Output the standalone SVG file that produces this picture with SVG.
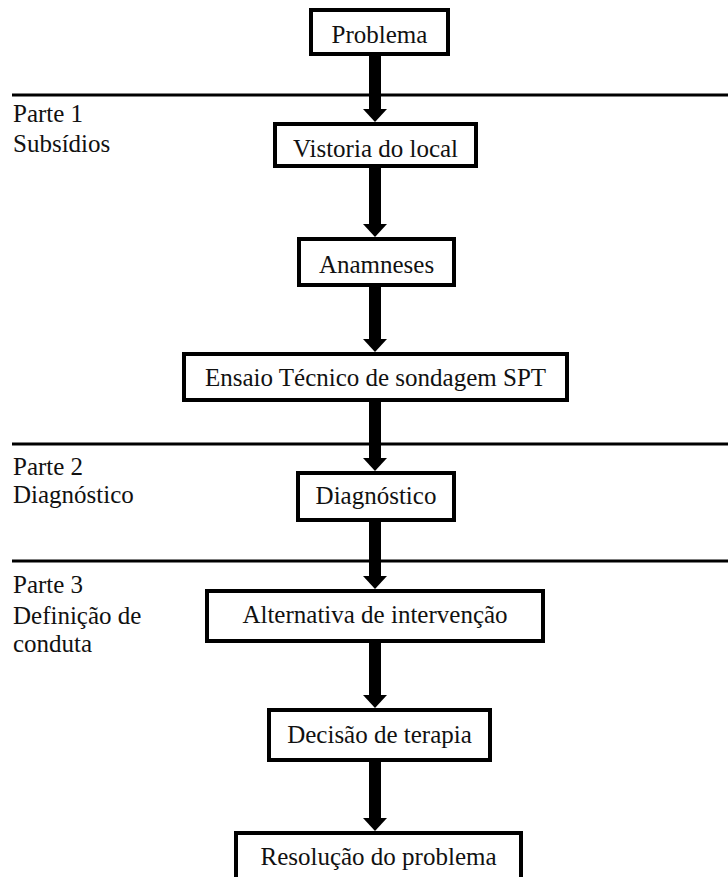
<svg xmlns="http://www.w3.org/2000/svg" width="728" height="877" viewBox="0 0 728 877">
<defs>
<style>
.box{fill:#fff;stroke:#000;stroke-width:4}
.lbl{font-family:'Liberation Serif','Times New Roman',Times,'DejaVu Serif','Noto Serif',serif;font-size:25px;fill:#111}
.c{text-anchor:middle}
.sep{stroke:#000;stroke-width:3}
.arr{stroke:#000;stroke-width:12;marker-end:url(#ah)}
</style>
<marker id="ah" markerUnits="userSpaceOnUse" markerWidth="13" markerHeight="24" refX="0" refY="12" orient="auto" viewBox="0 0 13 24">
<path d="M0,0 L13,12 L0,24 Z" fill="#000"/>
</marker>
</defs>
<rect width="728" height="877" fill="#fff"/>
<g id="separators">
<line class="sep" x1="12" y1="95" x2="728" y2="95"/>
<line class="sep" x1="12" y1="444" x2="728" y2="444"/>
<line class="sep" x1="12" y1="561" x2="728" y2="561"/>
</g>
<g id="section-labels">
<text class="lbl" x="13" y="122">Parte 1</text>
<text class="lbl" x="13" y="152">Subsídios</text>
<text class="lbl" x="13" y="475">Parte 2</text>
<text class="lbl" x="13" y="503">Diagnóstico</text>
<text class="lbl" x="13" y="593">Parte 3</text>
<text class="lbl" x="13" y="624">Definição de</text>
<text class="lbl" x="13" y="652">conduta</text>
</g>
<g id="connectors">
<line class="arr" x1="375" y1="56" x2="375" y2="109"/>
<line class="arr" x1="375" y1="168" x2="375" y2="224"/>
<line class="arr" x1="375" y1="287" x2="375" y2="339"/>
<line class="arr" x1="375" y1="402" x2="375" y2="458"/>
<line class="arr" x1="375" y1="522" x2="375" y2="576"/>
<line class="arr" x1="375" y1="643" x2="375" y2="695"/>
<line class="arr" x1="375" y1="762" x2="375" y2="818"/>
</g>
<g id="n-problema">
<rect class="box" x="311" y="10" width="137" height="44"/>
<text class="lbl c" x="379.5" y="43">Problema</text>
</g>
<g id="n-vistoria">
<rect class="box" x="275" y="124" width="201" height="42"/>
<text class="lbl c" x="375.5" y="157">Vistoria do local</text>
</g>
<g id="n-anamneses">
<rect class="box" x="299" y="239" width="155" height="46"/>
<text class="lbl c" x="376.5" y="273">Anamneses</text>
</g>
<g id="n-ensaio">
<rect class="box" x="184" y="354" width="383" height="46"/>
<text class="lbl c" x="375.5" y="386">Ensaio Técnico de sondagem SPT</text>
</g>
<g id="n-diagnostico">
<rect class="box" x="298" y="473" width="156" height="47"/>
<text class="lbl c" x="376" y="504">Diagnóstico</text>
</g>
<g id="n-alternativa">
<rect class="box" x="207" y="591" width="336" height="50"/>
<text class="lbl c" x="375" y="623">Alternativa de intervenção</text>
</g>
<g id="n-decisao">
<rect class="box" x="269" y="710" width="221" height="50"/>
<text class="lbl c" x="379.5" y="743">Decisão de terapia</text>
</g>
<g id="n-resolucao">
<rect class="box" x="236" y="833" width="285" height="60"/>
<text class="lbl c" x="378.5" y="865">Resolução do problema</text>
</g>
</svg>
